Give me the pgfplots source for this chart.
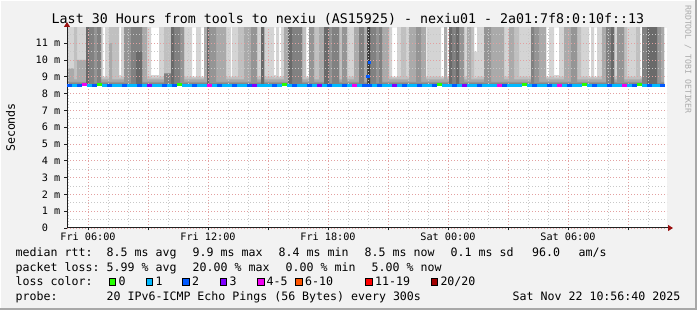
\documentclass[border=0pt]{standalone}
\usepackage{pgfplots}
\pgfplotsset{compat=1.18}
\usepackage{pgfplotstable}
\usepackage{fontspec}
\setmainfont{DejaVu Sans Mono}
\usetikzlibrary{arrows.meta}
\definecolor{bgc}{HTML}{F2F2F2}
\definecolor{framec}{HTML}{A8A8A8}
\definecolor{axisc}{HTML}{202020}
\definecolor{arrowc}{HTML}{9A1010}
\definecolor{gridred}{HTML}{E3A0A0}
\definecolor{gridgray}{HTML}{C8C8C8}
\definecolor{sA}{HTML}{D4D4D4}
\definecolor{sB}{HTML}{C0C0C0}
\definecolor{sC}{HTML}{AAAAAA}
\definecolor{sD}{HTML}{959595}
\definecolor{sE}{HTML}{818181}
\definecolor{sF}{HTML}{6A6A6A}
\definecolor{sG}{HTML}{3A3A3A}
\definecolor{lc0}{HTML}{26FF00}
\definecolor{lc1}{HTML}{00B8FF}
\definecolor{lc2}{HTML}{0059FF}
\definecolor{lc3}{HTML}{7E00FF}
\definecolor{lc4}{HTML}{F000F0}
\definecolor{lc6}{HTML}{FF5500}
\definecolor{lc11}{HTML}{FF0000}
\definecolor{lc20}{HTML}{A10000}
\definecolor{rrdc}{HTML}{ABABAB}
\newcommand{\fs}[1]{\fontsize{#1}{#1}\selectfont}

\pgfplotstableread{
x L1 L2 L3 L4 L5 L6 L7
4.95 12 9.0 9.5 8.7 8.6 8 8
5.30 12 12 8.85 8.7 8.6 8 8
5.45 12 9.0 10.0 8.7 8.6 8 8
5.90 12 12 12 12 12 12 8
6.05 12 12 12 12 12 8 8
6.30 12 12 12 12 8.6 8 8
6.45 12 12 12 12 12 8 8
6.65 12 9.0 8.85 8.7 8.6 8 8
6.75 9.0 8.95 8.85 8.7 8.6 8 8
6.85 12 9.0 8.85 8.7 8.6 8 8
7.05 12 12 11.0 8.7 8.6 8 8
7.20 12 12 8.85 8.7 8.6 8 8
7.55 9.1 8.95 8.85 8.7 8.6 8 8
7.65 12 9.0 8.85 8.7 8.6 8 8
7.80 12 12 12 12 8.6 8 8
8.15 12 12 12 12 12 8 8
8.40 12 12 12 12 12 10.5 8
8.70 12 12 12 8.7 8.6 8 8
8.95 12 9.0 8.85 8.7 8.6 8 8
9.15 9.1 8.95 8.85 8.7 8.6 8 8
9.55 12 9.0 8.85 8.7 8.6 8 8
9.80 12 12 8.85 8.7 9.2 8 8
10.15 12 12 12 12 12 12 8
10.30 12 12 12 12 12 8 8
10.60 12 12 12 12 8.6 8 8
10.80 12 9.0 8.85 8.7 8.6 8 8
11.20 9.0 8.95 8.85 8.7 8.6 8 8
11.40 12 9.0 8.85 8.7 8.6 8 8
11.65 9.0 8.95 8.85 8.7 8.6 8 8
11.80 12 12 12 8.7 8.6 8 8
11.95 12 12 12 12 12 12 8
12.05 12 12 12 12 8.6 8 8
12.40 12 12 12 8.7 8.6 8 8
12.90 12 9.0 8.85 8.7 8.6 8 8
13.15 9.0 8.95 8.85 8.7 8.6 8 8
13.20 12 9.0 8.85 8.7 8.6 8 8
13.50 12 12 8.85 8.7 8.6 8 8
13.80 12 12 12 8.7 8.6 8 8
14.15 12 12 12 12 8.6 8 8
14.45 12 9.0 8.85 8.7 8.6 8 8
14.65 12 12 12 12 12 12 8
14.80 12 9.0 8.85 8.7 8.6 8 8
15.30 9.1 8.95 8.85 8.7 8.6 8 8
15.40 12 9.0 8.85 8.7 8.6 8 8
15.55 9.0 8.95 8.85 8.7 8.6 8 8
15.65 12 9.0 8.85 8.7 8.6 8 8
15.80 12 12 12 8.7 8.6 8 8
16.00 12 12 12 12 12 12 8
16.20 12 12 12 12 12 8 8
16.70 12 12 8.85 8.7 8.6 8 8
16.90 9.0 8.95 8.85 8.7 8.6 8 8
17.05 12 12 12 12 8.6 8 8
17.30 12 12 8.85 8.7 8.6 8 8
17.55 12 12 12 8.7 8.6 8 8
17.80 12 12 12 12 12 12 8
18.05 12 12 12 12 8.6 8 8
18.20 12 12 12 12 12 8 8
18.55 12 12 8.85 8.7 8.6 8 8
18.70 12 12 12 12 8.6 8 8
18.95 12 9.0 8.85 8.7 8.6 8 8
19.30 12 12 12 8.7 8.6 8 8
19.55 12 12 12 12 12 8 8
19.80 12 12 12 8.7 8.6 8 8
19.97 12 12 12 12 12 12 12
20.10 12 12 12 12 12 8 8
20.40 12 12 12 12 8.6 8 8
20.55 12 12 12 12 12 8 8
20.70 12 12 12 8.7 8.6 8 8
21.05 12 9.0 8.85 8.7 8.6 8 8
21.20 9.0 8.95 8.85 8.7 8.6 8 8
21.45 12 9.0 8.85 8.7 8.6 8 8
21.65 12 12 8.85 8.7 8.6 8 8
21.90 12 9.0 8.85 8.7 8.6 8 8
22.05 12 12 12 8.7 8.6 8 8
22.40 12 12 12 12 8.6 8 8
22.65 12 12 12 8.7 8.6 8 8
22.90 9.0 8.95 8.85 8.7 8.6 8 8
22.95 12 9.0 8.85 8.7 8.6 8 8
23.65 9.0 8.95 8.85 8.7 8.6 8 8
23.80 12 12 12 8.7 8.6 8 8
23.95 9.0 8.95 8.85 8.7 8.6 8 8
24.05 12 12 12 12 12 12 8
24.20 12 12 12 12 12 8 8
24.40 12 12 12 12 12 12 8
24.55 12 12 12 12 8.6 8 8
24.80 12 9.0 8.85 8.7 8.6 8 8
24.95 12 12 12 8.7 8.6 8 8
25.15 12 12 8.85 8.7 8.6 8 8
25.30 10.5 8.95 8.85 8.7 8.6 8 8
25.45 12 9.0 8.85 8.7 8.6 8 8
25.80 12 12 12 12 8.6 8 8
26.15 12 12 12 8.7 8.6 8 8
26.80 12 9.0 8.85 8.7 8.6 8 8
27.05 12 12 12 8.7 8.6 8 8
27.30 12 12 8.85 8.7 8.6 8 8
27.55 12 9.0 8.85 8.7 8.6 8 8
28.15 12 12 12 12 12 8 8
28.30 12 12 12 12 8.6 8 8
28.55 12 12 12 8.7 8.6 8 8
28.90 9.0 8.95 8.85 8.7 8.6 8 8
29.05 12 9.0 8.85 8.7 8.6 8 8
29.30 9.1 8.95 8.85 8.7 8.6 8 8
29.55 12 9.0 8.85 8.7 8.6 8 8
29.80 12 12 12 8.7 8.6 8 8
30.15 12 12 12 12 8.6 8 8
30.45 12 12 8.85 8.7 8.6 8 8
30.65 12 9.0 8.85 8.7 8.6 8 8
31.05 9.0 8.95 8.85 8.7 8.6 8 8
31.15 12 9.0 8.85 8.7 8.6 8 8
31.30 9.0 8.95 8.85 8.7 8.6 8 8
31.45 12 9.0 8.85 8.7 8.6 8 8
31.70 12 12 12 8.7 8.6 8 8
31.90 12 12 12 12 12 8 8
32.15 12 12 12 12 12 12 8
32.30 12 9.0 8.85 8.7 8.6 8 8
32.45 12 12 12 12 8.6 8 8
32.80 12 12 8.85 8.7 8.6 8 8
32.95 12 9.0 8.85 8.7 8.6 8 8
33.40 12 12 8.85 8.7 8.6 8 8
33.60 9.0 8.95 8.85 8.7 8.6 8 8
33.70 12 12 12 12 12 8 8
33.95 12 12 12 12 12 12 8
34.45 12 12 12 12 8.6 8 8
34.65 12 12 12 8.7 8.6 8 8
34.80 12 12 12 8.7 8.6 8 8
}\smoke

\pgfplotstableread{
x y c
5.075 8.5 b
5.325 8.5 c
5.575 8.5 b
5.825 8.55 m
6.075 8.5 c
6.325 8.5 b
6.575 8.55 g
6.825 8.5 c
7.075 8.5 b
7.325 8.5 c
7.575 8.5 c
7.825 8.5 b
8.075 8.5 c
8.325 8.5 c
8.575 8.5 b
8.825 8.5 c
9.075 8.5 p
9.325 8.5 c
9.575 8.5 c
9.825 8.5 b
10.075 8.5 c
10.325 8.5 b
10.575 8.55 g
10.825 8.5 c
11.075 8.5 c
11.325 8.5 b
11.575 8.5 c
11.825 8.5 c
12.075 8.5 m
12.325 8.5 c
12.575 8.5 b
12.825 8.5 c
13.075 8.5 c
13.325 8.5 b
13.575 8.5 c
13.825 8.5 c
14.075 8.5 b
14.325 8.5 p
14.575 8.5 c
14.825 8.5 c
15.075 8.5 c
15.325 8.5 b
15.575 8.5 c
15.825 8.55 g
16.075 8.5 c
16.325 8.5 b
16.575 8.5 c
16.825 8.5 c
17.075 8.5 b
17.325 8.5 c
17.575 8.5 p
17.825 8.5 c
18.075 8.5 b
18.325 8.5 c
18.575 8.5 c
18.825 8.5 b
19.075 8.5 c
19.325 8.5 m
19.575 8.5 c
19.825 8.5 b
20.075 8.5 b
20.325 8.5 c
20.575 8.5 b
20.825 8.5 c
21.075 8.5 c
21.325 8.5 p
21.575 8.5 c
21.825 8.5 b
22.075 8.5 c
22.325 8.5 c
22.575 8.5 b
22.825 8.5 c
23.075 8.5 c
23.325 8.5 b
23.575 8.55 g
23.825 8.5 c
24.075 8.5 c
24.325 8.5 b
24.575 8.5 c
24.825 8.5 p
25.075 8.5 c
25.325 8.5 c
25.575 8.5 b
25.825 8.5 c
26.075 8.5 c
26.325 8.5 c
26.575 8.5 m
26.825 8.5 b
27.075 8.5 c
27.325 8.5 c
27.575 8.5 c
27.825 8.55 g
28.075 8.5 c
28.325 8.5 b
28.575 8.5 c
28.825 8.5 c
29.075 8.5 b
29.325 8.5 c
29.575 8.5 m
29.825 8.5 c
30.075 8.5 b
30.325 8.5 c
30.575 8.5 c
30.825 8.55 g
31.075 8.5 c
31.325 8.5 b
31.575 8.5 c
31.825 8.5 c
32.075 8.5 b
32.325 8.5 c
32.575 8.5 c
32.825 8.5 m
33.075 8.5 c
33.325 8.5 b
33.575 8.55 g
33.825 8.5 c
34.075 8.5 b
34.325 8.5 c
34.575 8.5 c
34.700 8.5 b
}\median

\begin{document}
\begin{tikzpicture}
\useasboundingbox (0,0) rectangle (697bp,310bp);
\fill[bgc] (0,0) rectangle (697bp,310bp);
\draw[white, line width=1bp] (0.5bp,0) -- (0.5bp,309.5bp) -- (697bp,309.5bp);
\draw[framec, line width=2bp] (0,1bp) -- (696bp,1bp) -- (696bp,310bp);
\begin{axis}[
  at={(67bp,82bp)}, anchor=south west,
  scale only axis, width=600bp, height=200bp,
  xmin=4.95, xmax=34.95, ymin=0, ymax=11.9,
  axis on top,
  axis background/.style={fill=white},
  axis lines=left,
  axis line style={draw=axisc, line width=1bp},
  x axis line style={-{Triangle[length=5bp,width=6bp,color=arrowc]}, shorten >=-6bp},
  y axis line style={-{Triangle[length=5bp,width=6bp,color=arrowc]}, shorten >=-6bp},
  tick align=outside,
  major tick length=2.5bp, minor tick length=0pt,
  tick style={draw=axisc, line width=0.8bp},
  xtick={6,9,...,33},
  xticklabels={Fri 06:00,,Fri 12:00,,Fri 18:00,,Sat 00:00,,Sat 06:00,},
  minor xtick={5,7,8,10,11,13,14,16,17,19,20,22,23,25,26,28,29,31,32,34},
  ytick={0,1,...,11},
  yticklabels={{0\hphantom{\ m}},1 m,2 m,3 m,4 m,5 m,6 m,7 m,8 m,9 m,10 m,11 m},
  minor ytick={0.5,1.5,...,11.5},
  grid=both,
  major grid style={draw=gridred, line width=0.7bp, dash pattern=on 1bp off 2bp},
  minor grid style={draw=gridgray, line width=0.7bp, dash pattern=on 1bp off 2bp},
  xticklabel style={font=\fs{10.2bp}, anchor=base, inner sep=0pt, yshift=-10bp},
  yticklabel style={font=\fs{10.2bp}, anchor=east, inner sep=0pt, xshift=-4bp},
]
\addplot[const plot, fill=sA, draw=none] table[x=x, y=L1] {\smoke} \closedcycle;
\addplot[const plot, fill=sB, draw=none] table[x=x, y=L2] {\smoke} \closedcycle;
\addplot[const plot, fill=sC, draw=none] table[x=x, y=L3] {\smoke} \closedcycle;
\addplot[const plot, fill=sD, draw=none] table[x=x, y=L4] {\smoke} \closedcycle;
\addplot[const plot, fill=sE, draw=none] table[x=x, y=L5] {\smoke} \closedcycle;
\addplot[const plot, fill=sF, draw=none] table[x=x, y=L6] {\smoke} \closedcycle;
\addplot[const plot, fill=sG, draw=none] table[x=x, y=L7] {\smoke} \closedcycle;
\addplot[fill=white, draw=none] coordinates {(4.95,8.45) (34.95,8.45)} \closedcycle;
\addplot[scatter, only marks, scatter src=explicit symbolic, mark size=2.5bp,
  mark options={line width=3bp},
  scatter/classes={
    g={mark=-, draw=lc0},
    c={mark=-, draw=lc1},
    b={mark=-, draw=lc2},
    p={mark=-, draw=lc3},
    m={mark=-, draw=lc4}}]
  table[x=x, y=y, meta=c] {\median};
\addplot[only marks, mark=square*, mark size=1.2bp, color=lc2] coordinates {(19.98,9.04) (20.06,9.87)};
\end{axis}

\node[anchor=base, inner sep=0pt, font=\fs{13.3bp}] at (348bp,286bp)
  {Last 30 Hours from tools to nexiu (AS15925) - nexiu01 - 2a01:7f8:0:10f::13};
\node[rotate=90, inner sep=0pt, font=\fs{11.6bp}] at (10.5bp,182.5bp) {Seconds};
\node[rotate=-90, anchor=west, inner sep=0pt, font=\fs{8.2bp}, text=rrdc] at (688bp,305bp)
  {RRDTOOL / TOBI OETIKER};

\begin{scope}[every node/.style={anchor=base west, inner sep=0pt, font=\fs{11.6bp}}]
\node at (15.5bp,53bp) {median rtt:};
\node at (106.5bp,53bp) {8.5 ms avg};
\node at (192.5bp,53bp) {9.9 ms max};
\node at (278.5bp,53bp) {8.4 ms min};
\node at (364.5bp,53bp) {8.5 ms now};
\node at (450.5bp,53bp) {0.1 ms sd};
\node at (532bp,53bp) {96.0};
\node at (578.5bp,53bp) {am/s};

\node at (15.5bp,38.5bp) {packet loss:};
\node at (106.5bp,38.5bp) {5.99 \% avg};
\node at (192.5bp,38.5bp) {20.00 \% max};
\node at (285.5bp,38.5bp) {0.00 \% min};
\node at (371.5bp,38.5bp) {5.00 \% now};

\node at (15.5bp,24.3bp) {loss color:};
\node at (118.5bp,24.3bp) {0};
\node at (155.3bp,24.3bp) {1};
\node at (192bp,24.3bp) {2};
\node at (229.3bp,24.3bp) {3};
\node at (266.5bp,24.3bp) {4-5};
\node at (305bp,24.3bp) {6-10};
\node at (375bp,24.3bp) {11-19};
\node at (440.3bp,24.3bp) {20/20};

\node at (15.5bp,10bp) {probe:};
\node at (106.5bp,10bp) {20 IPv6-ICMP Echo Pings (56 Bytes) every 300s};
\node at (512.5bp,10bp) {Sat Nov 22 10:56:40 2025};
\end{scope}
\foreach \bx/\bc in {109/lc0,146/lc1,182.7/lc2,220/lc3,257.3/lc4,295.7/lc6,365.7/lc11,431/lc20}{
  \filldraw[fill=\bc, draw=black, line width=0.8bp] (\bx bp,24.7bp) rectangle ++(6.7bp,6.7bp);
}
\end{tikzpicture}
\end{document}
